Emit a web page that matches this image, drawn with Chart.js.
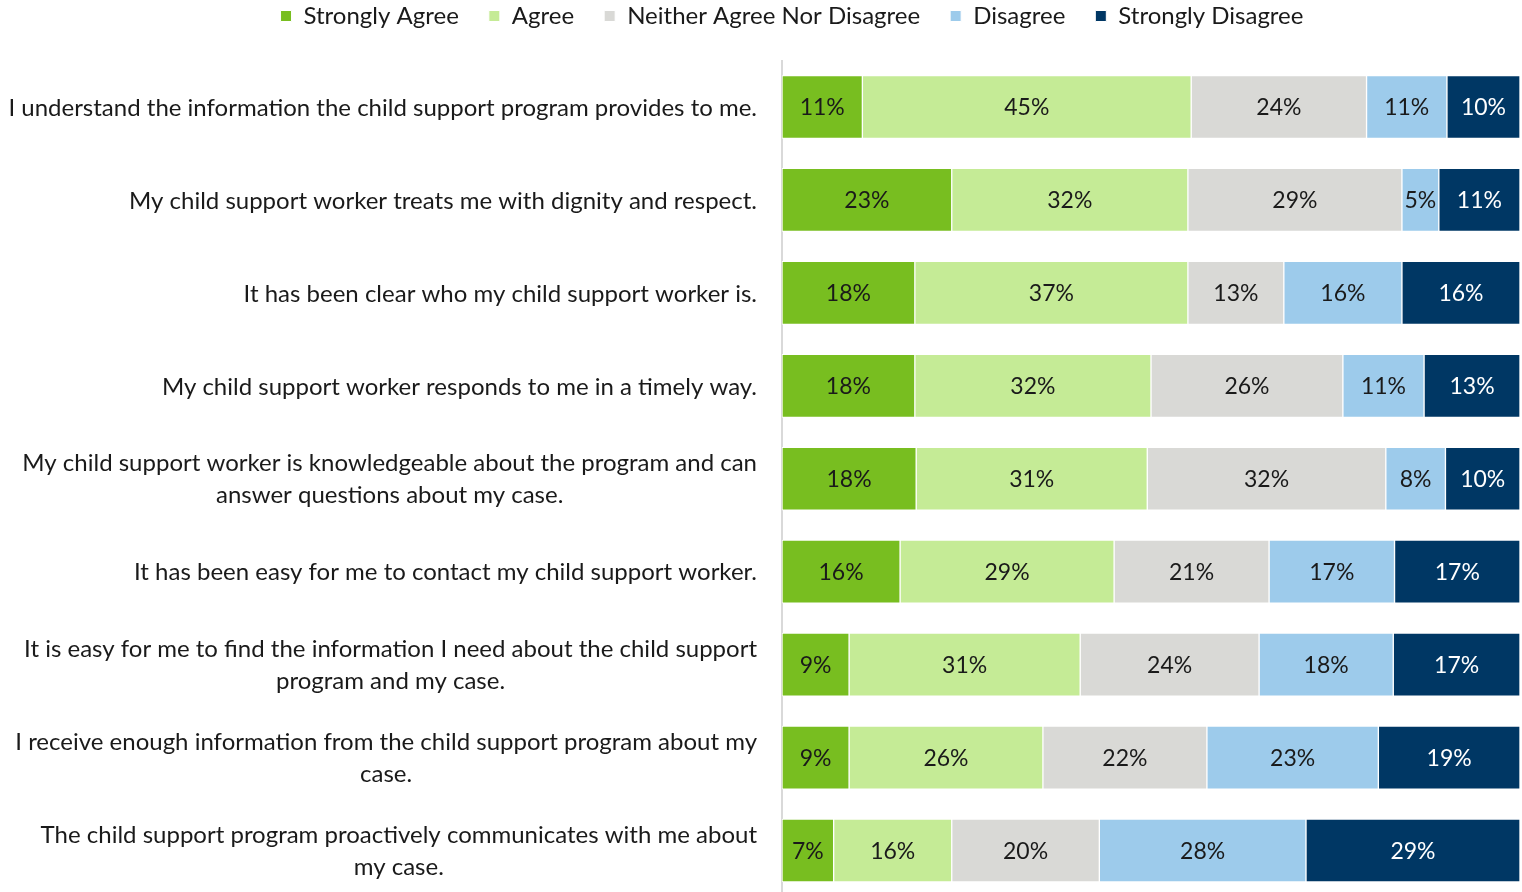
<!DOCTYPE html>
<html>
<head>
<meta charset="utf-8">
<title>Child support program survey</title>
<script src="https://cdn.jsdelivr.net/npm/chart.js@4.4.1/dist/chart.umd.min.js"></script>
<style>
  html, body { margin: 0; padding: 0; background: #fff; overflow: hidden; }
  #wrap { width: 1522px; height: 900px; position: relative; }
</style>
</head>
<body>
<div id="wrap"><canvas id="surveyChart"></canvas></div>
<script>
const statements = [
  ['I understand the information the child support program provides to me.'],
  ['My child support worker treats me with dignity and respect.'],
  ['It has been clear who my child support worker is.'],
  ['My child support worker responds to me in a timely way.'],
  ['My child support worker is knowledgeable about the program and can', 'answer questions about my case.'],
  ['It has been easy for me to contact my child support worker.'],
  ['It is easy for me to find the information I need about the child support', 'program and my case.'],
  ['I receive enough information from the child support program about my', 'case.'],
  ['The child support program proactively communicates with me about', 'my case.']
];

const responseLabels = ['Strongly Agree', 'Agree', 'Neither Agree Nor Disagree', 'Disagree', 'Strongly Disagree'];
const responseColors = ['#78BE20', '#C5EB96', '#D9D9D6', '#9DCBEB', '#003764'];
const labelColors = ['#1a1a1a', '#1a1a1a', '#1a1a1a', '#1a1a1a', '#ffffff'];

// percent of respondents per statement (rounded, as reported)
const stronglyAgree    = [11, 23, 18, 18, 18, 16,  9,  9,  7];
const agree            = [45, 32, 37, 32, 31, 29, 31, 26, 16];
const neither          = [24, 29, 13, 26, 32, 21, 24, 22, 20];
const disagree         = [11,  5, 16, 11,  8, 17, 18, 23, 28];
const stronglyDisagree = [10, 11, 16, 13, 10, 17, 17, 19, 29];

const seriesValues = [stronglyAgree, agree, neither, disagree, stronglyDisagree];

const FONT = 'Lato, "Open Sans", sans-serif';
const TEXT = '#1a1a1a';

// 100% stacked: each row is scaled to its own total
const rowTotals = statements.map((_, j) => seriesValues.reduce((s, arr) => s + arr[j], 0));

const datasets = seriesValues.map((vals, i) => ({
  label: responseLabels[i],
  data: vals.map((v, j) => v / rowTotals[j] * 100),
  rawValues: vals,
  backgroundColor: responseColors[i],
  borderColor: '#ffffff',
  borderWidth: 1,
  borderSkipped: false,
  barThickness: 63
}));

// percentage text in the middle of each segment
const segmentLabels = {
  id: 'segmentLabels',
  afterDatasetsDraw(chart) {
    const ctx = chart.ctx;
    ctx.save();
    ctx.font = '23px ' + FONT;
    ctx.textAlign = 'center';
    ctx.textBaseline = 'middle';
    chart.data.datasets.forEach((ds, i) => {
      const meta = chart.getDatasetMeta(i);
      ctx.fillStyle = labelColors[i];
      meta.data.forEach((bar, j) => {
        const p = bar.getProps(['x', 'y', 'base'], true);
        ctx.fillText(ds.rawValues[j] + '%', (p.x + p.base) / 2, p.y + 1);
      });
    });
    ctx.restore();
  }
};

// statement text: block right-aligned to the axis, lines centred in the block
const statementLabels = {
  id: 'statementLabels',
  afterDraw(chart) {
    const ctx = chart.ctx;
    const yScale = chart.scales.y;
    const right = chart.chartArea.left - 25;
    const lineH = 32;
    ctx.save();
    ctx.font = '24px ' + FONT;
    ctx.fillStyle = TEXT;
    ctx.textAlign = 'center';
    ctx.textBaseline = 'middle';
    statements.forEach((lines, i) => {
      const y = yScale.getPixelForTick(i) + 1;
      const w = Math.max(...lines.map(l => ctx.measureText(l).width));
      const cx = right - w / 2;
      const y0 = y - (lines.length - 1) * lineH / 2;
      lines.forEach((l, k) => ctx.fillText(l, cx, y0 + k * lineH));
    });
    ctx.restore();
  }
};

new Chart(document.getElementById('surveyChart'), {
  type: 'bar',
  data: {
    labels: statements,
    datasets: datasets
  },
  options: {
    indexAxis: 'y',
    responsive: true,
    maintainAspectRatio: false,
    animation: false,
    layout: {
      padding: { top: -26, left: 64, right: 2, bottom: 3 }
    },
    plugins: {
      legend: {
        position: 'top',
        labels: {
          boxWidth: 11,
          boxHeight: 11,
          padding: 30,
          color: TEXT,
          font: { family: FONT, size: 24 }
        }
      },
      tooltip: { enabled: false }
    },
    scales: {
      x: {
        position: 'top',
        stacked: true,
        min: 0,
        max: 100,
        grid: { display: false },
        border: { display: false },
        ticks: { display: false },
        afterFit(scale) { scale.height = 22.5; }
      },
      y: {
        stacked: true,
        grid: { display: false, drawTicks: false },
        border: { display: true, color: '#D9D9D9', width: 2 },
        ticks: { display: false },
        afterFit(scale) { scale.width = 718; }
      }
    }
  },
  plugins: [segmentLabels, statementLabels]
});
</script>
</body>
</html>
